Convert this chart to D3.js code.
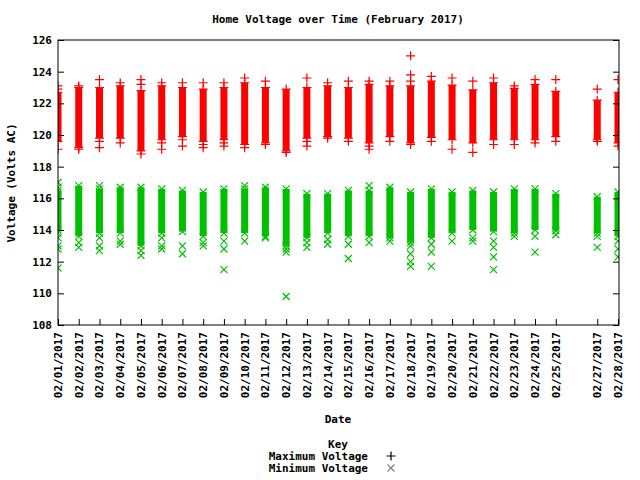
<!DOCTYPE html>
<html>
<head>
<meta charset="utf-8">
<script src="https://cdn.jsdelivr.net/npm/d3@7"></script>
<style>
  body { margin: 0; background: #fff; }
  text { font-family: "DejaVu Sans Mono", monospace; font-weight: bold; font-size: 11px; }
</style>
</head>
<body>
<script>
// days shown (02/26 has no data)
var days = [1,2,3,4,5,6,7,8,9,10,11,12,13,14,15,16,17,18,19,20,21,22,23,24,25,27,28];
var maxLo = [119.6,119.2,119.8,119.8,119.0,119.7,119.9,119.6,119.7,119.4,119.5,119.0,119.8,119.9,119.8,119.5,119.9,119.5,119.85,119.7,119.5,119.7,119.7,119.7,119.9,119.7,119.5];
var maxHi = [122.7,123.0,123.0,123.1,122.8,123.1,123.0,122.9,123.0,123.3,123.0,122.9,123.0,123.1,123.0,123.2,123.1,123.1,123.4,123.15,122.85,123.3,122.95,123.2,122.75,122.2,122.7];
var maxOut = [[123.1,122.9,119.1],[123.1,119.1],[123.5,119.6,119.2],[123.3,119.5],[123.5,123.2,118.8],[123.3,119.5,119.1],[123.3,119.7,119.3],[123.3,119.4,119.2],[123.3,119.5,119.3],[123.6,119.2],[123.4,119.4],[118.9],[123.6,119.6,119.3],[123.3,119.8],[123.4,119.6],[123.4,119.3,119.1],[123.4,119.6],[125.0,123.8,123.4,119.4],[123.7,119.6],[123.6,119.1],[123.4,118.9],[123.6,119.4],[123.1,119.4],[123.5,119.5],[123.5,119.6],[122.9,119.6],[123.5,119.3]];
var minLo = [114.0,113.6,113.8,113.8,113.0,113.8,113.9,113.6,113.8,113.8,113.6,113.0,113.5,113.8,113.6,113.6,113.5,113.2,113.5,113.8,114.0,113.9,113.8,114.0,113.95,113.8,113.6];
var minHi = [116.5,116.8,116.6,116.7,116.7,116.6,116.5,116.4,116.6,116.6,116.7,116.6,116.3,116.3,116.5,116.5,116.7,116.4,116.6,116.4,116.5,116.4,116.6,116.6,116.3,116.1,116.4];
var minOut = [[117.0,116.7,113.8,113.5,113.0,112.8,111.6],[113.2,112.9],[116.8,113.5,113.0,112.7],[113.3,113.1],[112.7,112.4],[113.5,113.0,112.8],[113.0,112.5],[113.2,113.0],[113.3,112.8,111.5],[116.8,113.3],[113.5],[112.8,112.6,109.8],[113.2,112.9],[113.4,113.1],[113.1,112.2],[116.8,113.2],[113.3],[113.0,112.5,112.0,111.7],[113.1,112.6,111.7],[113.3],[113.5,113.3],[113.3,112.9,112.3,111.5],[113.6],[113.6,112.6],[113.7],[113.6,112.9],[113.3,112.8,112.3]];
var yTicks = [108,110,112,114,116,118,120,122,124,126];

var W = 640, H = 480;
var L = 58, R = 619, T = 40, B = 325;
var svg = d3.select("body").append("svg").attr("width", W).attr("height", H);

var x = d3.scaleLinear().domain([1, 28]).range([L, R - 1]);
var y = d3.scaleLinear().domain([108, 126]).range([B, T]);

var plot = svg.append("g");
var clip = svg.append("clipPath").attr("id", "c").append("rect")
    .attr("x", L).attr("y", T).attr("width", R - L).attr("height", B - T);
plot.attr("clip-path", "url(#c)");

function plus(g, cx, cy, col) {
    g.append("path").attr("d", "M" + (cx - 4.5) + "," + cy + "h9M" + cx + "," + (cy - 4.5) + "v9")
        .attr("stroke", col).attr("stroke-width", 1.2).attr("fill", "none");
}
function cross(g, cx, cy, col) {
    g.append("path").attr("d", "M" + (cx - 3.5) + "," + (cy - 3.5) + "l7,7M" + (cx - 3.5) + "," + (cy + 3.5) + "l7,-7")
        .attr("stroke", col).attr("stroke-width", 1.2).attr("fill", "none");
}

var red = "#ff0000", green = "#00c000";
days.forEach(function(d, i) {
    var cx = x(d);
    plot.append("rect").attr("x", cx - 3.5).attr("width", 7)
        .attr("y", y(maxHi[i])).attr("height", y(maxLo[i]) - y(maxHi[i])).attr("fill", red);
    plus(plot, cx, y(maxHi[i]), red);
    plus(plot, cx, y(maxLo[i]), red);
    maxOut[i].forEach(function(v) { plus(plot, cx, y(v), red); });
    plot.append("rect").attr("x", cx - 3.5).attr("width", 7)
        .attr("y", y(minHi[i])).attr("height", y(minLo[i]) - y(minHi[i])).attr("fill", green);
    cross(plot, cx, y(minHi[i]), green);
    cross(plot, cx, y(minLo[i]), green);
    minOut[i].forEach(function(v) { cross(plot, cx, y(v), green); });
});

// frame
svg.append("rect").attr("x", L).attr("y", T).attr("width", R - L).attr("height", B - T)
    .attr("fill", "none").attr("stroke", "#000");

// y axis, ticks inward on both sides
var yl = svg.append("g").attr("transform", "translate(" + L + ",0)")
    .call(d3.axisRight(y).tickValues(yTicks).tickSize(6).tickFormat(""));
yl.select(".domain").remove();
var yr = svg.append("g").attr("transform", "translate(" + R + ",0)")
    .call(d3.axisLeft(y).tickValues(yTicks).tickSize(6).tickFormat(""));
yr.select(".domain").remove();
yTicks.forEach(function(v) {
    svg.append("text").attr("x", L - 6).attr("y", y(v) + 4).attr("text-anchor", "end").text(v);
});

// x axis
var xa = svg.append("g").attr("transform", "translate(0," + B + ")")
    .call(d3.axisTop(x).tickValues(days).tickSize(6).tickFormat(""));
xa.select(".domain").remove();
days.forEach(function(d) {
    var lab = "02/" + (d < 10 ? "0" + d : d) + "/2017";
    svg.append("text").attr("transform", "translate(" + (x(d) + 4) + "," + (B + 7) + ") rotate(-90)")
        .attr("text-anchor", "end").text(lab);
});

svg.selectAll(".tick line").attr("stroke", "#000");

// titles
svg.append("text").attr("x", 338).attr("y", 23).attr("text-anchor", "middle").text("Home Voltage over Time (February 2017)");
svg.append("text").attr("transform", "translate(15,183) rotate(-90)").attr("text-anchor", "middle").text("Voltage (Volts AC)");
svg.append("text").attr("x", 338).attr("y", 423).attr("text-anchor", "middle").text("Date");

// legend
svg.append("text").attr("x", 338).attr("y", 448).attr("text-anchor", "middle").text("Key");
svg.append("text").attr("x", 368).attr("y", 460).attr("text-anchor", "end").text("Maximum Voltage");
svg.append("text").attr("x", 368).attr("y", 472).attr("text-anchor", "end").text("Minimum Voltage");
plus(svg, 391, 456, "#000");
cross(svg, 391, 468, "#808080");
</script>
</body>
</html>
